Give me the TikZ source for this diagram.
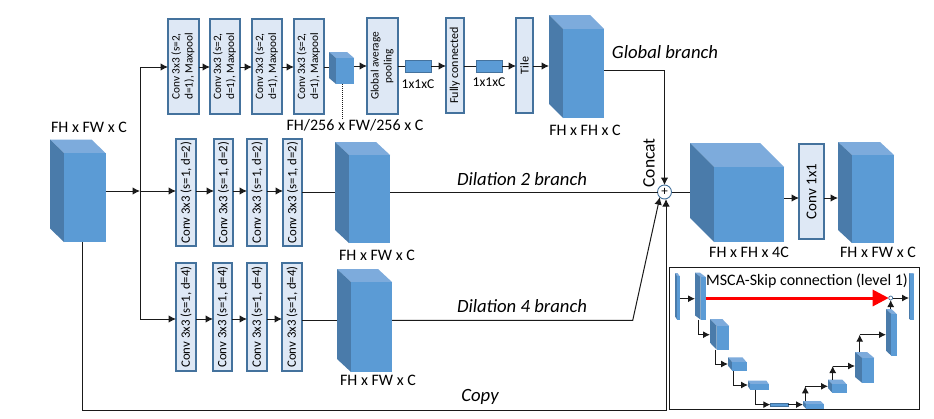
\documentclass[tikz,border=0pt]{standalone}
\usepackage{fontspec}
\usepackage{graphicx}
\setmainfont{Carlito}
\usetikzlibrary{arrows.meta}
\definecolor{cfront}{HTML}{5B9BD5}
\definecolor{cside}{HTML}{4A7BAA}
\definecolor{ctop}{HTML}{7DABDC}
\definecolor{bfill}{HTML}{DEE8F5}
\definecolor{bedge}{HTML}{44729D}
\definecolor{lgray}{HTML}{1A1A1A}
\tikzset{
  conv/.style={draw=bedge,fill=bfill,line width=1.1pt,inner sep=0pt,outer sep=0pt,text=black},
  frontface/.style={fill=cfront,inner sep=0pt,outer sep=0pt},
  flatbar/.style={fill=cfront,draw=bedge,line width=.8pt,inner sep=0pt,outer sep=0pt},
  conn/.style={draw=lgray,line width=1pt},
  arr/.style={conn,-{Latex[length=7.5pt,width=7.5pt]}},
  sarr/.style={conn,-{Latex[length=7pt,width=7pt]}},
  dim/.style={font=\fontsize{16}{17}\selectfont,inner sep=0pt,text=black},
  ital/.style={font=\fontsize{18.7}{20}\selectfont\itshape,inner sep=0pt,text=black},
}
% box: name, x0,y0,x1,y1, text
\newcommand{\bx}[6]{\node[conv,minimum width={(#4-#2)*1pt},minimum height={(#5-#3)*1pt}] (#1) at ({(#2+#4)/2},{(#3+#5)/2}) {\rotatebox{90}{#6}};}
% cube: name, xback, xfront, xright, ytop, yfront, ybottom
\newcommand{\cube}[7]{%
  \fill[ctop] (#2,#5) -- ({#4-(#3-#2)},#5) -- (#4,#6) -- (#3,#6) -- cycle;
  \fill[cside] (#2,#5) -- (#3,#6) -- (#3,#7) -- (#2,{#7-(#6-#5)}) -- cycle;
  \node[frontface,minimum width={(#4-#3)*1pt},minimum height={(#7-#6)*1pt}] (#1) at ({(#3+#4)/2},{(#6+#7)/2}) {};
  \coordinate (#1-l) at (#2,{(#5+#7)/2});
  \coordinate (#1-t) at ({(#2+#4)/2},#5);
}
\newcommand{\twol}[2]{\fontsize{11.3}{13}\selectfont\begin{tabular}{@{}c@{}}#1\\#2\end{tabular}}
\newcommand{\onel}[1]{\fontsize{12}{14}\selectfont #1}
\newcommand{\rowl}[1]{\fontsize{12.8}{14}\selectfont #1}
\begin{document}
\begin{tikzpicture}[x=1pt,y=-1pt]
\fill[white] (0,0) rectangle (934,418);
\useasboundingbox (0,0) rectangle (934,418);
% input
\cube{in}{50}{64}{105.5}{139.5}{153}{242}
\node[dim] (inl) at (89,127) {FH x FW x C};
% global branch
\bx{ga}{168}{19}{199}{114}{\twol{Conv 3x3 (s=2,}{d=1), Maxpool}}
\bx{gb}{210}{19}{240}{114}{\twol{Conv 3x3 (s=2,}{d=1), Maxpool}}
\bx{gc}{252}{19}{282}{114}{\twol{Conv 3x3 (s=2,}{d=1), Maxpool}}
\bx{gd}{294}{19}{324}{114}{\twol{Conv 3x3 (s=2,}{d=1), Maxpool}}
\cube{sc}{329}{336}{354}{52}{58}{84}
\node[dim] (scl) at (355,125) {FH/256 x FW/256 x C};
\bx{gap}{367}{18}{398}{114}{\twol{Global average}{pooling}}
\node[flatbar,minimum width=26pt,minimum height=12pt] (ra) at (418,66) {};
\node[dim,font=\fontsize{13.5}{15}\selectfont] (ral) at (418,84) {1x1xC};
\bx{fc}{446}{18}{464}{113}{\onel{Fully connected}}
\node[flatbar,minimum width=26pt,minimum height=12pt] (rb) at (489,66) {};
\node[dim,font=\fontsize{13.5}{15}\selectfont] (rbl) at (489,82) {1x1xC};
\bx{tile}{516}{18}{533}{113}{\onel{Tile}}
\cube{gl}{549}{563}{604}{15}{29}{118}
\node[dim] (gll) at (585,130) {FH x FH x C};
\node[ital] (glb) at (665,52) {Global branch};
% dilation 2
\bx{pa}{176}{139}{196}{246}{\rowl{Conv 3x3 (s=1, d=2)}}
\bx{pb}{214}{139}{233}{246}{\rowl{Conv 3x3 (s=1, d=2)}}
\bx{pc}{247}{139}{267}{246}{\rowl{Conv 3x3 (s=1, d=2)}}
\bx{pd}{283}{139}{302}{246}{\rowl{Conv 3x3 (s=1, d=2)}}
\cube{pcube}{335}{349}{390}{142}{155}{243}
\node[dim] (pl) at (377,255) {FH x FW x C};
\node[ital] (pt) at (522,179) {Dilation 2 branch};
% dilation 4
\bx{qa}{176}{263}{196}{371}{\rowl{Conv 3x3 (s=1, d=4)}}
\bx{qb}{213}{263}{232}{371}{\rowl{Conv 3x3 (s=1, d=4)}}
\bx{qc}{247}{263}{267}{371}{\rowl{Conv 3x3 (s=1, d=4)}}
\bx{qd}{282}{263}{302}{371}{\rowl{Conv 3x3 (s=1, d=4)}}
\cube{qcube}{337}{351}{392}{269}{282}{372}
\node[dim] (ql) at (378,380) {FH x FW x C};
\node[ital] (qt) at (522,306) {Dilation 4 branch};
\node[ital] (copy) at (480,397) {Copy};
% merge
\node[circle,draw=bedge,fill=white,line width=.9pt,minimum size=14pt,inner sep=0pt,outer sep=0pt,font=\fontsize{13}{13}\selectfont] (plus) at (664.5,192) {+};
\node[rotate=90,font=\fontsize{17.5}{18}\selectfont,inner sep=0pt] (concat) at (649,163) {Concat};
\cube{big}{690}{714}{784}{143}{167}{242}
\node[dim] (bigl) at (749,252) {FH x FH x 4C};
\bx{one}{799}{144}{824}{239}{\fontsize{15}{16}\selectfont Conv 1x1}
\cube{out}{838}{852}{894}{142}{155}{243}
\node[dim] (outl) at (878,252) {FH x FW x C};
% inset
\node[draw=lgray,line width=1pt,minimum width=250pt,minimum height=142pt,inner sep=0pt,outer sep=0pt] (frame) at (794,338) {};
\cube{ia}{675}{677}{679.5}{273}{276}{319.5}
\cube{ib}{695}{700.7}{705.7}{272.7}{277}{319.7}
\cube{ic}{710}{716.7}{729}{319}{326}{349.7}
\cube{id}{728}{732.3}{746.7}{357.3}{362.3}{370.7}
\cube{ie}{748}{750.3}{768.7}{380.7}{384}{389.7}
\node[flatbar,minimum width=18pt,minimum height=3pt] (if) at (779.3,404.6) {};
\cube{ig}{803}{806}{823.7}{401}{404}{408.6}
\cube{ih}{828}{832.3}{846.7}{379.7}{384.3}{392.7}
\cube{ii}{855}{862.3}{874.3}{352}{358}{383}
\cube{ij}{886}{891.3}{896.7}{309}{314}{355.7}
\cube{ik}{909}{910.3}{914.3}{273}{274}{319.7}
\node[circle,draw=bedge,fill=white,line width=.7pt,minimum size=4pt,inner sep=0pt,outer sep=0pt] (dot) at (890.7,298) {};
\node[font=\fontsize{16}{17}\selectfont,inner sep=0pt] (msca) at (807,281) {MSCA-Skip connection (level 1)};
% connectors: global
\coordinate (split) at (140,191);
\draw[arr] (in.east |- split) -- (split);
\draw[arr] (split) -- (pa.west |- split);
\draw[arr] (split) |- (ga.west |- 0,67);
\draw[arr] (split) |- (qa.west |- 0,319);
\draw[arr] (ga.east |- 0,67) -- (gb.west |- 0,67);
\draw[arr] (gb.east |- 0,67) -- (gc.west |- 0,67);
\draw[arr] (gc.east |- 0,67) -- (gd.west |- 0,67);
\draw[conn] (gd.east |- 0,67) -- (sc-l |- 0,67);
\draw[arr] (sc.east |- 0,66) -- (gap.west |- 0,66);
\draw[conn,densely dotted] (sc.south -| 342,0) -- (scl.north -| 342,0);
\draw[conn] (gap.east |- ra) -- (ra.west);
\draw[arr] (ra.east) -- (fc.west |- ra);
\draw[conn] (fc.east |- rb) -- (rb.west);
\draw[arr] (rb.east) -- (tile.west |- rb);
\draw[arr] (tile.east |- 0,66) -- (gl-l |- 0,66);
\draw[arr] (gl.east |- 0,70) -| (plus.north);
% dilation 2
\draw[arr] (pa.east |- 0,191) -- (pb.west |- 0,191);
\draw[arr] (pb.east |- 0,191) -- (pc.west |- 0,191);
\draw[arr] (pc.east |- 0,191) -- (pd.west |- 0,191);
\draw[conn] (pd.east |- 0,192) -- (pcube-l |- 0,192);
\draw[conn] (pcube.east |- plus) -- (plus.west);
% dilation 4
\draw[arr] (qa.east |- 0,319) -- (qb.west |- 0,319);
\draw[arr] (qb.east |- 0,319) -- (qc.west |- 0,319);
\draw[arr] (qc.east |- 0,319) -- (qd.west |- 0,319);
\draw[conn] (qd.east |- 0,320) -- (qcube-l |- 0,320);
\coordinate (dfour) at (632.7,320.4);
\draw[arr] (qcube.east |- dfour) -- (dfour) -- (plus.228);
% copy
\coordinate (cpa) at (82.7,410);
\coordinate (cpb) at (666,410);
\draw[arr] (in.south -| cpa) -- (cpa) -- (cpb) -- (plus.south -| cpb);
% merge
\draw[conn] (plus.east) -- (big-l |- plus);
\draw[arr] (big.east |- 0,198) -- (one.west |- 0,198);
\draw[arr] (one.east |- 0,198) -- (out-l |- 0,198);
% inset connectors
\coordinate (upa) at (805.3,386.3);
\coordinate (upb) at (832.7,366);
\coordinate (upc) at (859.7,334.7);
\draw[sarr] (ia.east |- 0,298.7) -- (ib-l |- 0,298.7);
\draw[sarr] (ib.south -| 698,0) |- (ic-l |- 0,334.7);
\draw[sarr] (ic.south -| 715.3,0) |- (id-l |- 0,364);
\draw[sarr] (id.south -| 733.3,0) |- (ie-l |- 0,385);
\draw[sarr] (ie.south -| 755.3,0) |- (if.west);
\draw[sarr] (if.east) -- (ig-l |- if);
\draw[sarr] (ig-t -| upa) -- (upa);
\draw[sarr] (upa) -- (ih-l |- upa);
\draw[sarr] (ih-t -| upb) -- (upb);
\draw[sarr] (upb) -- (ii-l |- upb);
\draw[sarr] (ii-t -| upc) -- (upc);
\draw[sarr] (upc) -- (ij-l |- upc);
\draw[sarr] (ij-t -| dot) -- (dot.south);
\draw[sarr] (dot.east) -- (ik-l |- dot);
\draw[red,line width=3pt,-{Triangle[length=16pt,width=16pt]}] (ib.east |- dot) -- (dot.west);
\end{tikzpicture}
\end{document}
